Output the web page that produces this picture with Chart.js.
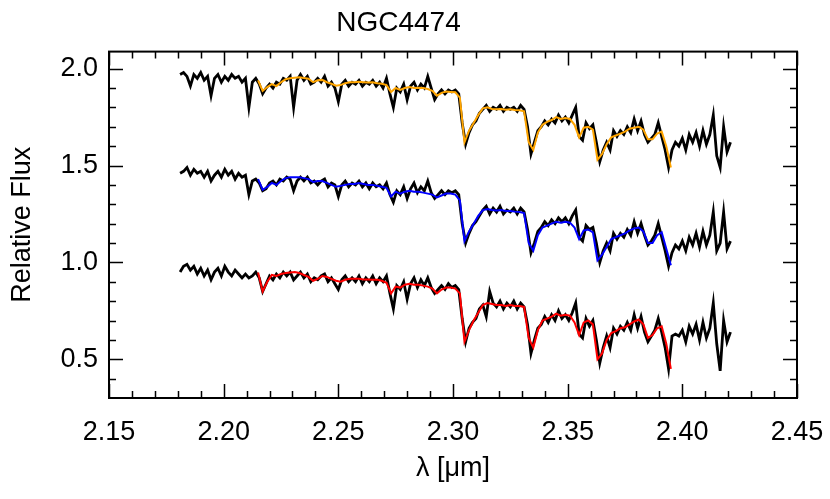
<!DOCTYPE html>
<html>
<head>
<meta charset="utf-8">
<script src="https://cdn.jsdelivr.net/npm/chart.js@4.4.1/dist/chart.umd.min.js"></script>
<style>
  html, body { margin: 0; padding: 0; background: #fff; }
  #spec { display: block; }
</style>
</head>
<body>
<canvas id="spec" width="830" height="499"></canvas>
<script>
// wavelength grid of the observed spectra (micron)
const lambdaObs = [
  2.1810,2.1825,2.1840,2.1855,2.1870,2.1885,2.1900,2.1915,2.1930,2.1945,
  2.1960,2.1975,2.1990,2.2005,2.2020,2.2035,2.2050,2.2065,2.2080,2.2095,
  2.2110,2.2125,2.2140,2.2155,2.2170,2.2185,2.2200,2.2215,2.2230,2.2245,
  2.2260,2.2275,2.2290,2.2305,2.2320,2.2335,2.2350,2.2365,2.2380,2.2395,
  2.2410,2.2425,2.2440,2.2455,2.2470,2.2485,2.2500,2.2515,2.2530,2.2545,
  2.2560,2.2575,2.2590,2.2605,2.2620,2.2635,2.2650,2.2665,2.2680,2.2695,
  2.2710,2.2725,2.2740,2.2755,2.2770,2.2785,2.2800,2.2815,2.2830,2.2845,
  2.2860,2.2875,2.2890,2.2905,2.2920,2.2935,2.2950,2.2965,2.2980,2.2995,
  2.3010,2.3025,2.3040,2.3055,2.3070,2.3085,2.3100,2.3115,2.3130,2.3145,
  2.3160,2.3175,2.3190,2.3205,2.3220,2.3235,2.3250,2.3265,2.3280,2.3295,
  2.3310,2.3325,2.3340,2.3355,2.3370,2.3385,2.3400,2.3415,2.3430,2.3445,
  2.3460,2.3475,2.3490,2.3505,2.3520,2.3535,2.3550,2.3565,2.3580,2.3595,
  2.3610,2.3625,2.3640,2.3655,2.3670,2.3685,2.3700,2.3715,2.3730,2.3745,
  2.3760,2.3775,2.3790,2.3805,2.3820,2.3835,2.3850,2.3865,2.3880,2.3895,
  2.3910,2.3925,2.3940,2.3955,2.3970,2.3985,2.4000,2.4015,2.4030,2.4045,
  2.4060,2.4075,2.4090,2.4105,2.4120,2.4135,2.4150,2.4165,2.4180,2.4195,
  2.4210
];

// observed flux, top / middle / bottom spectrum
const fluxTop = [
  1.97,1.98,1.96,1.91,1.97,1.95,1.98,1.94,1.96,1.86,
  1.95,1.97,1.93,1.96,1.94,1.97,1.95,1.96,1.93,1.95,
  1.80,1.93,1.95,1.92,1.87,1.90,1.92,1.90,1.93,1.92,
  1.95,1.94,1.96,1.80,1.94,1.97,1.94,1.96,1.92,1.93,
  1.95,1.93,1.96,1.91,1.93,1.90,1.83,1.92,1.94,1.91,
  1.93,1.92,1.94,1.91,1.93,1.92,1.94,1.91,1.93,1.90,
  1.95,1.87,1.80,1.90,1.88,1.92,1.84,1.91,1.93,1.89,
  1.92,1.90,1.96,1.90,1.84,1.87,1.89,1.87,1.89,1.88,
  1.89,1.87,1.72,1.61,1.67,1.71,1.73,1.77,1.79,1.81,
  1.78,1.80,1.79,1.81,1.78,1.80,1.79,1.80,1.78,1.81,
  1.79,1.70,1.56,1.62,1.68,1.70,1.73,1.71,1.74,1.72,
  1.76,1.73,1.75,1.72,1.76,1.80,1.65,1.63,1.72,1.69,
  1.71,1.62,1.52,1.58,1.62,1.58,1.68,1.65,1.68,1.66,
  1.70,1.67,1.74,1.68,1.73,1.66,1.62,1.64,1.66,1.72,
  1.65,1.58,1.49,1.58,1.62,1.60,1.64,1.58,1.66,1.62,
  1.67,1.60,1.68,1.61,1.66,1.76,1.55,1.49,1.70,1.57,
  1.62
];
const fluxMid = [
  1.46,1.47,1.49,1.45,1.48,1.46,1.47,1.44,1.47,1.42,
  1.45,1.47,1.44,1.48,1.45,1.47,1.43,1.46,1.44,1.45,
  1.35,1.42,1.43,1.41,1.37,1.38,1.41,1.42,1.40,1.43,
  1.42,1.44,1.43,1.37,1.42,1.44,1.42,1.44,1.41,1.42,
  1.40,1.42,1.43,1.39,1.41,1.40,1.34,1.40,1.42,1.39,
  1.41,1.40,1.42,1.39,1.41,1.38,1.41,1.39,1.40,1.38,
  1.41,1.35,1.31,1.37,1.35,1.39,1.33,1.38,1.41,1.36,
  1.39,1.37,1.42,1.36,1.33,1.35,1.37,1.35,1.37,1.36,
  1.37,1.35,1.20,1.10,1.15,1.19,1.21,1.24,1.27,1.29,
  1.25,1.28,1.26,1.29,1.25,1.27,1.26,1.28,1.25,1.28,
  1.26,1.17,1.05,1.10,1.16,1.18,1.21,1.19,1.22,1.20,
  1.23,1.21,1.23,1.20,1.24,1.27,1.13,1.11,1.19,1.17,
  1.18,1.10,1.00,1.06,1.10,1.06,1.15,1.12,1.15,1.13,
  1.17,1.14,1.21,1.15,1.20,1.14,1.09,1.11,1.14,1.20,
  1.13,1.06,0.98,1.05,1.09,1.07,1.11,1.06,1.13,1.09,
  1.15,1.08,1.16,1.09,1.14,1.26,1.06,1.10,1.26,1.07,
  1.11
];
const fluxBot = [
  0.95,0.98,0.99,0.96,0.98,0.94,0.97,0.93,0.96,0.91,
  0.95,0.97,0.93,0.98,0.95,0.93,0.96,0.94,0.92,0.94,
  0.92,0.93,0.95,0.92,0.85,0.89,0.93,0.91,0.94,0.92,
  0.95,0.93,0.95,0.91,0.93,0.95,0.92,0.94,0.90,0.92,
  0.91,0.93,0.94,0.90,0.92,0.89,0.86,0.91,0.93,0.90,
  0.92,0.90,0.93,0.89,0.92,0.90,0.93,0.89,0.92,0.90,
  0.93,0.84,0.76,0.88,0.86,0.90,0.81,0.89,0.92,0.87,
  0.91,0.88,0.92,0.87,0.84,0.86,0.88,0.86,0.89,0.87,
  0.88,0.86,0.71,0.59,0.66,0.69,0.71,0.76,0.78,0.72,
  0.85,0.79,0.77,0.80,0.76,0.79,0.77,0.80,0.76,0.79,
  0.77,0.68,0.53,0.60,0.66,0.68,0.72,0.69,0.73,0.70,
  0.75,0.71,0.73,0.70,0.74,0.79,0.63,0.61,0.71,0.67,
  0.70,0.60,0.48,0.56,0.62,0.56,0.66,0.63,0.67,0.65,
  0.69,0.65,0.73,0.66,0.72,0.64,0.59,0.62,0.65,0.71,
  0.64,0.56,0.45,0.62,0.63,0.62,0.65,0.59,0.67,0.63,
  0.68,0.60,0.69,0.61,0.66,0.79,0.58,0.44,0.70,0.59,
  0.64
];

// model fits (only over the fitted range)
const lambdaFit = [
  2.215,2.217,2.219,2.221,2.223,2.225,2.227,2.229,2.231,2.233,
  2.235,2.237,2.239,2.241,2.243,2.245,2.247,2.249,2.251,2.253,
  2.255,2.257,2.259,2.261,2.263,2.265,2.267,2.269,2.271,2.273,
  2.275,2.277,2.279,2.281,2.283,2.285,2.287,2.289,2.291,2.293,
  2.295,2.297,2.299,2.301,2.303,2.305,2.307,2.309,2.311,2.313,
  2.315,2.317,2.319,2.321,2.323,2.325,2.327,2.329,2.331,2.333,
  2.335,2.337,2.339,2.341,2.343,2.345,2.347,2.349,2.351,2.353,
  2.355,2.357,2.359,2.361,2.363,2.365,2.367,2.369,2.371,2.373,
  2.375,2.377,2.379,2.381,2.383,2.385,2.387,2.389,2.391,2.393,
  2.395
];
const fitTop = [
  1.94,1.885,1.905,1.92,1.91,1.93,1.945,1.95,1.953,1.955,
  1.952,1.948,1.93,1.94,1.942,1.93,1.922,1.912,1.915,1.925,
  1.93,1.93,1.932,1.93,1.928,1.93,1.925,1.922,1.915,1.88,
  1.90,1.89,1.90,1.905,1.90,1.902,1.90,1.895,1.885,1.86,
  1.875,1.882,1.88,1.878,1.85,1.62,1.68,1.72,1.76,1.795,
  1.80,1.792,1.79,1.792,1.788,1.79,1.786,1.785,1.78,1.62,
  1.58,1.67,1.71,1.725,1.735,1.75,1.74,1.745,1.74,1.71,
  1.645,1.695,1.70,1.685,1.53,1.56,1.61,1.645,1.655,1.665,
  1.675,1.69,1.695,1.70,1.685,1.635,1.635,1.665,1.675,1.60,
  1.49
];
const fitMid = [
  1.43,1.375,1.39,1.41,1.40,1.42,1.435,1.44,1.44,1.44,
  1.435,1.43,1.415,1.42,1.42,1.41,1.40,1.39,1.395,1.40,
  1.405,1.405,1.41,1.405,1.40,1.40,1.395,1.39,1.385,1.34,
  1.365,1.355,1.365,1.37,1.365,1.365,1.36,1.355,1.35,1.335,
  1.345,1.355,1.355,1.35,1.32,1.11,1.16,1.20,1.24,1.27,
  1.275,1.27,1.268,1.27,1.265,1.265,1.262,1.26,1.255,1.10,
  1.06,1.14,1.18,1.19,1.20,1.21,1.205,1.21,1.205,1.18,
  1.12,1.165,1.17,1.155,1.01,1.04,1.08,1.12,1.13,1.14,
  1.15,1.165,1.175,1.18,1.16,1.10,1.10,1.14,1.155,1.07,
  0.985
];
const fitBot = [
  0.948,0.85,0.90,0.935,0.93,0.94,0.945,0.948,0.95,0.945,
  0.935,0.925,0.905,0.915,0.93,0.925,0.915,0.905,0.90,0.91,
  0.915,0.915,0.915,0.912,0.912,0.91,0.91,0.905,0.895,0.84,
  0.875,0.87,0.885,0.89,0.885,0.885,0.88,0.875,0.865,0.84,
  0.86,0.87,0.87,0.865,0.84,0.59,0.65,0.70,0.74,0.78,
  0.79,0.785,0.78,0.78,0.775,0.78,0.775,0.775,0.77,0.61,
  0.56,0.65,0.70,0.71,0.72,0.735,0.725,0.73,0.725,0.69,
  0.625,0.69,0.70,0.68,0.50,0.53,0.60,0.635,0.645,0.66,
  0.665,0.68,0.695,0.705,0.68,0.61,0.625,0.66,0.67,0.58,
  0.45
];

const xTicks = [2.15, 2.20, 2.25, 2.30, 2.35, 2.40, 2.45];
const yTicks = [0.5, 1.0, 1.5, 2.0];

const FONT = "'Liberation Sans', Arial, sans-serif";

function pts(xs, ys) {
  return xs.map((x, i) => ({x: x, y: ys[i]}));
}

// IDL style box with inward major + minor ticks
const boxTicks = {
  id: 'boxTicks',
  afterDatasetsDraw(chart) {
    const ctx = chart.ctx, a = chart.chartArea;
    const sx = chart.scales.x, sy = chart.scales.y;
    ctx.save();
    ctx.strokeStyle = '#000';
    ctx.lineWidth = 1.5;
    ctx.beginPath();
    for (let n = 0; n <= 30; n++) {
      const v = 2.15 + n * 0.01;
      const px = Math.round(sx.getPixelForValue(v)) + 0.5;
      const len = n % 5 === 0 ? 14 : 7;
      ctx.moveTo(px, a.bottom); ctx.lineTo(px, a.bottom - len);
      ctx.moveTo(px, a.top); ctx.lineTo(px, a.top + len);
    }
    for (let n = 4; n <= 20; n++) {
      const v = n * 0.1;
      const py = Math.round(sy.getPixelForValue(v)) + 0.5;
      const len = n % 5 === 0 ? 14 : 7;
      ctx.moveTo(a.left, py); ctx.lineTo(a.left + len, py);
      ctx.moveTo(a.right, py); ctx.lineTo(a.right - len, py);
    }
    ctx.stroke();
    ctx.lineWidth = 2;
    ctx.strokeRect(a.left, a.top, a.right - a.left, a.bottom - a.top);
    ctx.restore();
  }
};

const ctx = document.getElementById('spec').getContext('2d');
const myChart = new Chart(ctx, {
  type: 'line',
  data: {
    datasets: [
      {label: 'fit top', data: pts(lambdaFit, fitTop), borderColor: '#FFA500', borderWidth: 2, order: 0},
      {label: 'fit mid', data: pts(lambdaFit, fitMid), borderColor: '#0000FF', borderWidth: 2, order: 0},
      {label: 'fit bot', data: pts(lambdaFit, fitBot), borderColor: '#FF0000', borderWidth: 2, order: 0},
      {label: 'obs top', data: pts(lambdaObs, fluxTop), borderColor: '#000', borderWidth: 2.8, order: 1},
      {label: 'obs mid', data: pts(lambdaObs, fluxMid), borderColor: '#000', borderWidth: 2.8, order: 1},
      {label: 'obs bot', data: pts(lambdaObs, fluxBot), borderColor: '#000', borderWidth: 2.8, order: 1}
    ]
  },
  options: {
    responsive: false,
    devicePixelRatio: 1,
    animation: false,
    layout: {padding: {top: 6, right: 33, bottom: 0, left: 0}},
    elements: {point: {radius: 0}, line: {tension: 0, fill: false}},
    plugins: {
      legend: {display: false},
      tooltip: {enabled: false},
      title: {
        display: true, text: 'NGC4474', color: '#000',
        font: {family: FONT, size: 28, weight: 'normal'},
        padding: {top: 0, bottom: 12}
      }
    },
    scales: {
      x: {
        type: 'linear', min: 2.15, max: 2.45,
        afterBuildTicks: s => { s.ticks = xTicks.map(v => ({value: v})); },
        afterFit: s => { s.height = 101; s.paddingLeft = 0; s.paddingRight = 0; },
        grid: {display: false, drawTicks: false},
        border: {display: false},
        ticks: {
          color: '#000', padding: 18, maxRotation: 0, autoSkip: false,
          font: {family: FONT, size: 27},
          callback: v => v.toFixed(2)
        },
        title: {
          display: true, text: 'λ [μm]', color: '#000',
          font: {family: FONT, size: 27},
          padding: {top: 0, bottom: 14}
        }
      },
      y: {
        type: 'linear', min: 0.3, max: 2.088,
        afterBuildTicks: s => { s.ticks = yTicks.map(v => ({value: v})); },
        afterFit: s => { s.width = 109; s.paddingTop = 0; s.paddingBottom = 0; },
        grid: {display: false, drawTicks: false},
        border: {display: false},
        ticks: {
          color: '#000', padding: 11,
          font: {family: FONT, size: 27},
          callback: v => v.toFixed(1)
        },
        title: {
          display: true, text: 'Relative Flux', color: '#000',
          font: {family: FONT, size: 27},
          padding: {top: 6, bottom: 0}
        }
      }
    }
  },
  plugins: [boxTicks]
});
</script>
</body>
</html>
